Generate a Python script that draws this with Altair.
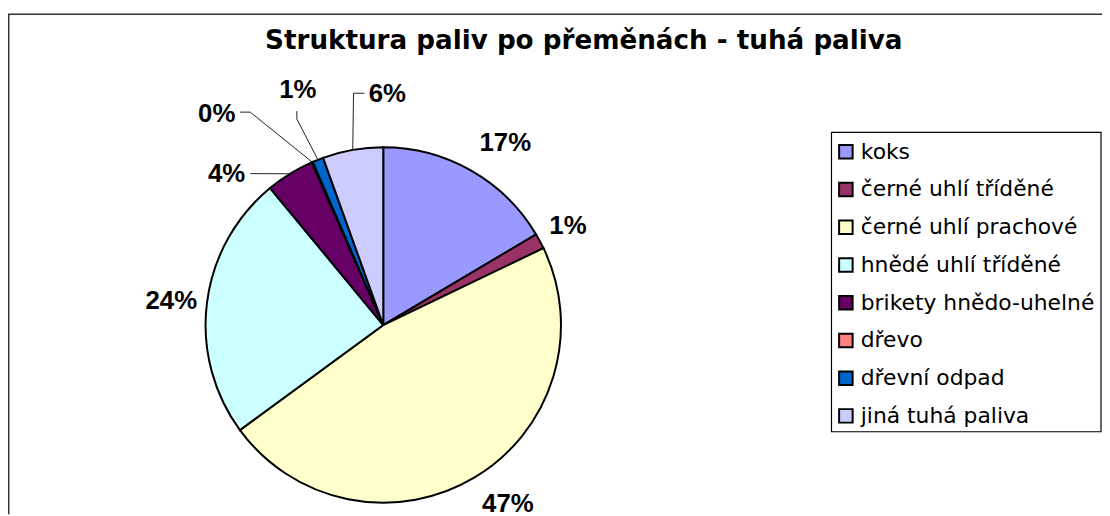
import altair as alt
import pandas as pd
import numpy as np

# ---------------- data ----------------
categories = [
    "koks",
    "černé uhlí tříděné",
    "černé uhlí prachové",
    "hnědé uhlí tříděné",
    "brikety hnědo-uhelné",
    "dřevo",
    "dřevní odpad",
    "jiná tuhá paliva",
]
shares = [16.5, 1.4, 47.1, 24.1, 4.4, 0.1, 1.0, 5.5]
pct_labels = ["17%", "1%", "47%", "24%", "4%", "0%", "1%", "6%"]
colors = ["#9999FF", "#993366", "#FFFFCC", "#CCFFFF", "#660066", "#FF8080", "#0066CC", "#CCCCFF"]
title_text = "Struktura paliv po přeměnách - tuhá paliva"

# ---------------- layout ----------------
W, H = 1102, 508
CX, CY, R = 378, 317.5, 179
# label placement: angular nudge from slice middle (deg) and distance from centre (px)
label_shift = [4.2, 0.0, -3.9, -0.6, -14.5, -14.7, 1.6, 10.9]
label_radius = [220.5, 211, 219.8, 214.9, 218.9, 270.9, 252, 232.5]
# leader line bends (polar: deg, px) for the small slices, ending on the slice edge
leader_bends = {
    4: [(318.7, 203)],
    5: [(326.1, 258.4), (328.0, 252.9)],
    6: [(338.0, 232.4), (337.25, 225)],
    7: [(355.35, 234.3), (352.7, 235.4)],
}
# legend box layout
LEG_X0, LEG_X1, LEG_Y0, LEG_Y1 = 829.5, 1101, 123.5, 425
LEG_SYM_X, LEG_TXT_X, LEG_ROW0, LEG_STEP = 844, 859, 143, 38

color_scale = alt.Scale(domain=categories, range=colors)

df = pd.DataFrame({"kategorie": categories, "podil": shares, "idx": list(range(len(categories)))})

total = float(sum(shares))
cum = np.cumsum(shares)
mid_deg = (cum - np.array(shares) / 2.0) / total * 360.0


def polar(theta_deg, r):
    t = np.radians(theta_deg)
    return CX + r * np.sin(t), CY - r * np.cos(t)


lab_rows = []
for i, lab in enumerate(pct_labels):
    x, y = polar(mid_deg[i] + label_shift[i], label_radius[i])
    lab_rows.append({"label": lab, "lx": x, "ly": y})
lab_df = pd.DataFrame(lab_rows)

lead_rows = []
for i, bends in leader_bends.items():
    pts = list(bends) + [(mid_deg[i], R)]
    for k, (th, r) in enumerate(pts):
        x, y = polar(th, r)
        lead_rows.append({"kategorie": categories[i], "seq": k, "px": x, "py": y})
lead_df = pd.DataFrame(lead_rows)

leg_df = pd.DataFrame({
    "kategorie": categories,
    "sx": [LEG_SYM_X] * len(categories),
    "tx": [LEG_TXT_X] * len(categories),
    "ry": [LEG_ROW0 + i * LEG_STEP for i in range(len(categories))],
})

# ---------------- marks ----------------
pie = alt.Chart(df).mark_arc(outerRadius=R, stroke="black", strokeWidth=2).encode(
    theta=alt.Theta("podil:Q", stack=True),
    color=alt.Color("kategorie:N", scale=color_scale, sort=categories, legend=None),
    order=alt.Order("idx:Q"),
    x=alt.value(CX),
    y=alt.value(CY),
)

leaders = alt.Chart(lead_df).mark_line(color="#222222", strokeWidth=1).encode(
    x=alt.X("px:Q", scale=None, axis=None),
    y=alt.Y("py:Q", scale=None, axis=None),
    detail="kategorie:N",
    order="seq:Q",
)

labels = alt.Chart(lab_df).mark_text(
    font="Liberation Sans", fontSize=26, fontWeight="bold", color="black",
    align="center", baseline="middle",
).encode(
    x=alt.X("lx:Q", scale=None, axis=None),
    y=alt.Y("ly:Q", scale=None, axis=None),
    text="label:N",
)

title = alt.Chart(pd.DataFrame({"t": [title_text]})).mark_text(
    font="DejaVu Sans", fontSize=26.4, fontWeight="bold", color="black",
    align="center", baseline="alphabetic",
).encode(text="t:N", x=alt.value(580), y=alt.value(39))

frame_df = pd.DataFrame({"a": [0]})
frame_top = alt.Chart(frame_df).mark_rule(color="#333333", strokeWidth=1.5).encode(
    x=alt.value(0), x2=alt.value(W), y=alt.value(4.5)
)
frame_left = alt.Chart(frame_df).mark_rule(color="#333333", strokeWidth=1.5).encode(
    x=alt.value(0.75), y=alt.value(4.5), y2=alt.value(H)
)

legend_box = alt.Chart(frame_df).mark_rect(fill="white", stroke="black", strokeWidth=1.2).encode(
    x=alt.value(LEG_X0), x2=alt.value(LEG_X1), y=alt.value(LEG_Y0), y2=alt.value(LEG_Y1)
)
legend_sym = alt.Chart(leg_df).mark_square(size=185, stroke="black", strokeWidth=2, opacity=1).encode(
    x=alt.X("sx:Q", scale=None, axis=None),
    y=alt.Y("ry:Q", scale=None, axis=None),
    fill=alt.Fill("kategorie:N", scale=color_scale, legend=None),
)
legend_txt = alt.Chart(leg_df).mark_text(
    font="DejaVu Sans", fontSize=22, color="black", align="left", baseline="middle",
).encode(
    x=alt.X("tx:Q", scale=None, axis=None),
    y=alt.Y("ry:Q", scale=None, axis=None),
    text="kategorie:N",
)

chart = alt.layer(
    frame_top, frame_left, pie, leaders, labels, title, legend_box, legend_sym, legend_txt
).properties(
    width=W, height=H, autosize=alt.AutoSizeParams(type="none"), padding=0
).configure_view(strokeWidth=0)

chart.save("out.html", embed_options={"renderer": "svg", "actions": False})
